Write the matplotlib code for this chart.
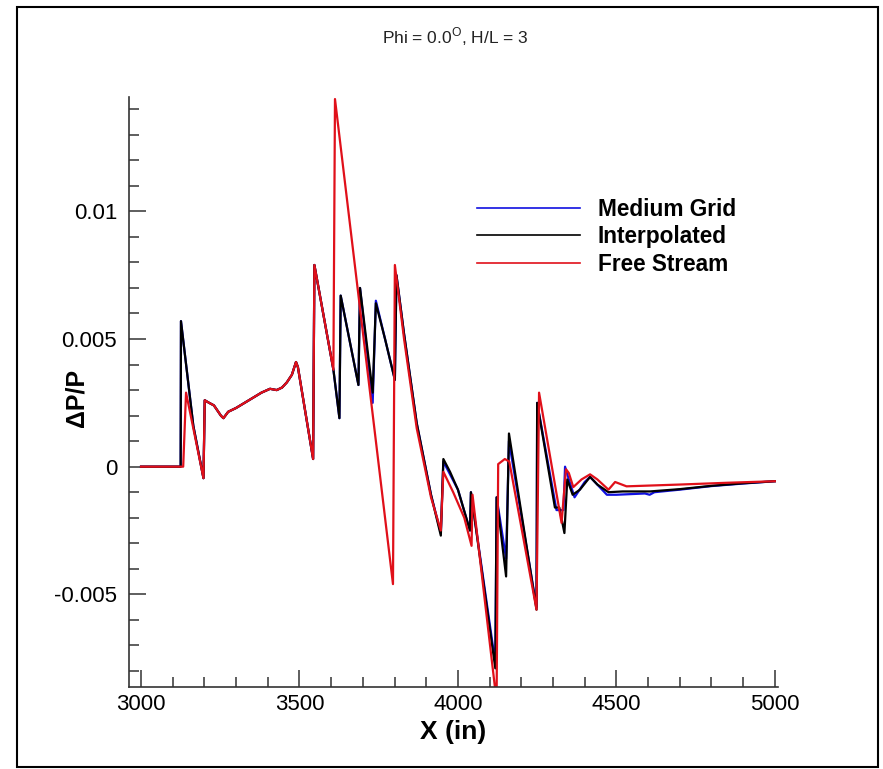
import matplotlib
matplotlib.use("Agg")
import matplotlib.pyplot as plt
from matplotlib.patches import Rectangle
from matplotlib.ticker import MultipleLocator, FixedLocator, FixedFormatter

plt.rcParams['font.family'] = ['Liberation Sans', 'DejaVu Sans']
plt.rcParams['mathtext.fontset'] = 'custom'
plt.rcParams['mathtext.rm'] = 'Liberation Sans'

# Free Stream (red)
x_free = [3000, 3133, 3142, 3197, 3201, 3215, 3230, 3252, 3260, 3275, 3300, 3340,
          3380, 3407, 3428, 3445, 3460, 3476, 3489, 3495, 3543, 3547, 3607, 3612,
          3795, 3801, 3830, 3870, 3915, 3946, 3954, 3985, 4020, 4043, 4046, 4122,
          4127, 4148, 4162, 4248, 4256, 4327, 4341, 4350, 4364, 4390, 4417, 4440,
          4475, 4496, 4532, 4700, 4850, 5000]
y_free = [0, 0, 0.0029, -0.00045, 0.0026, 0.0025, 0.0024, 0.0020, 0.0019, 0.00215,
          0.0023, 0.0026, 0.0029, 0.00305, 0.0030, 0.0031, 0.0033, 0.0036, 0.0041,
          0.0039, 0.0003, 0.0079, 0.0038, 0.0144, -0.0046, 0.0079, 0.0050, 0.0015,
          -0.0012, -0.0025, -0.0002, -0.0010, -0.0020, -0.0031, -0.0011, -0.0092,
          0.0001, 0.0003, 0.0002, -0.0056, 0.0029, -0.0022, -0.0001, -0.00025,
          -0.0008, -0.0005, -0.0003, -0.0005, -0.0009, -0.0006, -0.00077, -0.0007,
          -0.00063, -0.00057]

# Interpolated (black)
x_interp = [3000, 3125, 3126, 3165, 3197, 3201, 3215, 3230, 3252, 3260, 3275, 3300,
            3340, 3380, 3407, 3428, 3445, 3460, 3476, 3489, 3495, 3543, 3547, 3607,
            3626, 3630, 3686, 3691, 3731, 3741, 3770, 3801, 3806, 3830, 3870, 3915,
            3946, 3954, 3975, 4000, 4038, 4041, 4118, 4122, 4152, 4161, 4248, 4250,
            4306, 4320, 4336, 4345, 4362, 4385, 4417, 4440, 4475, 4520, 4606, 4700,
            4800, 4900, 5000]
y_interp = [0, 0, 0.0057, 0.0016, -0.00045, 0.0026, 0.0025, 0.0024, 0.0020, 0.0019,
            0.00215, 0.0023, 0.0026, 0.0029, 0.00305, 0.0030, 0.0031, 0.0033, 0.0036,
            0.0041, 0.0039, 0.0003, 0.0079, 0.0038, 0.0019, 0.0067, 0.0032, 0.0070,
            0.0029, 0.0064, 0.0050, 0.0034, 0.0075, 0.0052, 0.0017, -0.0011, -0.0027,
            0.0003, -0.0002, -0.0009, -0.0025, -0.0010, -0.0079, -0.0012, -0.0043,
            0.0013, -0.0056, 0.0025, -0.0016, -0.0016, -0.0026, -0.0005, -0.0011,
            -0.0009, -0.0004, -0.0007, -0.0010, -0.00097, -0.00097, -0.00088,
            -0.00075, -0.00065, -0.00057]

# Medium Grid (blue)
x_medium = [3000, 3125, 3126, 3165, 3197, 3201, 3215, 3230, 3252, 3260, 3275, 3300,
            3340, 3380, 3407, 3428, 3445, 3460, 3476, 3489, 3495, 3543, 3547, 3607,
            3626, 3630, 3686, 3691, 3731, 3741, 3770, 3801, 3806, 3830, 3870, 3915,
            3946, 3954, 3975, 4000, 4038, 4041, 4118, 4122, 4152, 4161, 4248, 4250,
            4311, 4333, 4338, 4350, 4368, 4400, 4417, 4470, 4500, 4590, 4605, 4620,
            4700, 4800, 4900, 5000]
y_medium = [0, 0, 0.0057, 0.0016, -0.00045, 0.0026, 0.0025, 0.0024, 0.0020, 0.0019,
            0.00215, 0.0023, 0.0026, 0.0029, 0.00305, 0.0030, 0.0031, 0.0033, 0.0036,
            0.0041, 0.0039, 0.0003, 0.0079, 0.0038, 0.0019, 0.0067, 0.0032, 0.0070,
            0.0025, 0.0065, 0.0050, 0.0034, 0.0075, 0.0052, 0.0017, -0.0011, -0.0026,
            0.0002, -0.0003, -0.0009, -0.0025, -0.0010, -0.0077, -0.0012, -0.0036,
            0.0010, -0.0055, 0.0025, -0.0017, -0.0017, 0.0, -0.0005, -0.0012,
            -0.0006, -0.0004, -0.0011, -0.0011, -0.00105, -0.0011, -0.0010,
            -0.0009, -0.00076, -0.00066, -0.00057]

yticks = [-0.005, 0, 0.005, 0.01]
ytick_labels = ['-0.005', '0', '0.005', '0.01']
xticks = [3000, 3500, 4000, 4500, 5000]

fig = plt.figure(figsize=(8.83, 7.69), dpi=100)
ax = fig.add_axes([129/883, 1-687/769, (778-129)/883, (687-97)/769])

ax.plot(x_medium, y_medium, color='#1010e0', linewidth=1.6, label='Medium Grid')
ax.plot(x_interp, y_interp, color='black', linewidth=1.6, label='Interpolated')
ax.plot(x_free, y_free, color='#e0101a', linewidth=1.6, label='Free Stream')

ax.set_xlim(2962, 5010)
ax.set_ylim(-0.00863, 0.01448)

ax.spines['top'].set_visible(False)
ax.spines['right'].set_visible(False)
for s in ['left', 'bottom']:
    ax.spines[s].set_color('#333333')
    ax.spines[s].set_linewidth(1.2)

ax.xaxis.set_major_locator(FixedLocator(xticks))
ax.xaxis.set_minor_locator(MultipleLocator(100))
ax.yaxis.set_major_locator(FixedLocator(yticks))
ax.yaxis.set_major_formatter(FixedFormatter(ytick_labels))
ax.yaxis.set_minor_locator(MultipleLocator(0.001))

ax.tick_params(which='both', direction='in', color='#333333', width=1.1, labelsize=16)
ax.tick_params(which='major', length=12)
ax.tick_params(which='minor', length=7)
ax.tick_params(axis='y', which='major', pad=8.5)
ax.tick_params(axis='x', which='major', pad=5)

ax.set_xlabel('X (in)', fontsize=19, fontweight='bold', labelpad=4)
ax.set_ylabel('ΔP/P', fontsize=18, fontweight='bold')
ax.yaxis.set_label_coords(-0.063, 0.49)

fig.text(455/883, 1-37/769, r'Phi = 0.0$^\mathrm{O}$, H/L = 3', ha='center', va='center',
         fontsize=12.5, color='#222222')

leg = ax.legend(loc='upper left', bbox_to_anchor=(0.536, 0.829), frameon=False,
                prop={'weight': 'bold', 'size': 16.3}, handlelength=4.55,
                handletextpad=0.8, labelspacing=0.2, borderpad=0, borderaxespad=0)
for line in leg.get_lines():
    line.set_linewidth(1.2)

fig.patches.append(Rectangle((17/883, 2/769), (878-17)/883, (762-2)/769,
                             transform=fig.transFigure, fill=False, lw=1.5, ec='black'))

plt.savefig('out.png', dpi=100)
